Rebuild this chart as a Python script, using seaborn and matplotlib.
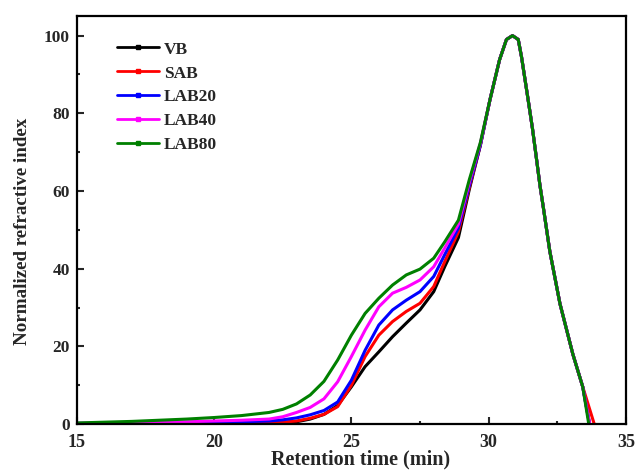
import numpy as np
import pandas as pd
import matplotlib
matplotlib.use("Agg")
import matplotlib.pyplot as plt
from matplotlib.lines import Line2D
import seaborn as sns

# retention time grid (min), shared by all samples
time = [15, 16, 17, 18, 19, 20, 21, 22, 22.5, 23, 23.5, 24, 24.5, 25, 25.5,
        26, 26.5, 27, 27.5, 28, 28.4, 28.9, 29.3, 29.7, 30.05, 30.4, 30.65,
        30.87, 31.08, 31.2, 31.44, 31.6, 31.75, 31.87, 32.0, 32.23, 32.6,
        33.07, 33.43]

# falling side after the peak, same for all samples
tail = [83.5, 93.8, 99, 100, 99, 94.5, 83.5, 76, 68, 61.5, 55.5, 44.5, 31,
        18, 9.6]

vb = [0.1, 0.1, 0.1, 0.1, 0.1, 0.1, 0.1, 0.2, 0.4, 0.6, 1.3, 2.5, 4.8, 9.6,
      14.8, 18.6, 22.5, 26.0, 29.4, 34.1, 40.5, 48, 60.5, 71.8] + tail
sab = [0.1, 0.1, 0.1, 0.1, 0.1, 0.1, 0.2, 0.3, 0.5, 0.8, 1.5, 2.5, 4.5, 10.0,
       17.4, 22.9, 26.4, 29.0, 31.1, 35.4, 41.8, 49.5, 61, 71.8] + tail
lab20 = [0.2, 0.2, 0.3, 0.3, 0.4, 0.5, 0.6, 0.8, 1.1, 1.6, 2.4, 3.5, 5.7, 11.3,
         19.0, 25.5, 29.4, 31.9, 34.1, 38.0, 43.6, 50.5, 61.5, 71.8] + tail
lab40 = [0.2, 0.3, 0.4, 0.5, 0.6, 0.8, 1.0, 1.3, 1.9, 3.0, 4.3, 6.5, 10.9, 17.4,
         24.2, 30.2, 33.7, 35.2, 37.1, 40.5, 45.3, 51.5, 62.3, 72.3] + tail
lab80 = [0.3, 0.5, 0.7, 1.0, 1.3, 1.7, 2.2, 3.0, 3.8, 5.2, 7.5, 11, 16.5, 22.9,
         28.5, 32.4, 35.8, 38.4, 39.9, 42.7, 46.9, 52.5, 63, 72.5] + tail

# where each trace reaches zero
end_time = {"VB": 33.68, "SAB": 33.85, "LAB20": 33.68, "LAB40": 33.68, "LAB80": 33.65}

samples = ["VB", "SAB", "LAB20", "LAB40", "LAB80"]
series = {"VB": vb, "SAB": sab, "LAB20": lab20, "LAB40": lab40, "LAB80": lab80}
colors = {"VB": "#000000", "SAB": "#ff0000", "LAB20": "#0000ff",
          "LAB40": "#ff00ff", "LAB80": "#008000"}

rows = []
for s in samples:
    for t, v in zip(time + [end_time[s]], series[s] + [0]):
        rows.append((s, t, v))
df = pd.DataFrame(rows, columns=["sample", "time", "ri"])

sns.set_style("ticks")
plt.rcParams["font.family"] = ["Liberation Serif", "DejaVu Serif"]
plt.rcParams["font.weight"] = "bold"

fig = plt.figure(figsize=(6.36, 4.76), dpi=100)
ax = fig.add_axes([0.121, 0.109, 0.863, 0.857])

sns.lineplot(data=df, x="time", y="ri", hue="sample", hue_order=samples,
             palette=colors, linewidth=2.2, estimator=None, legend=False, ax=ax)

ax.set_xlim(15, 35)
ax.set_ylim(0, 105)
ax.set_xticks([15, 20, 25, 30, 35])
ax.set_yticks([0, 20, 40, 60, 80, 100])
ax.set_xticks(np.arange(17.5, 35, 5), minor=True)
ax.set_yticks(np.arange(10, 105, 20), minor=True)
ax.tick_params(which="both", direction="in", width=1.5, labelsize=12.5)
ax.tick_params(axis="x", which="major", pad=7, labelsize=13)
ax.tick_params(axis="y", which="major", pad=5)
ax.tick_params(which="major", length=5)
ax.tick_params(which="minor", length=2.5)
for sp in ax.spines.values():
    sp.set_linewidth(1.6)
    sp.set_color("black")
for lbl in ax.get_xticklabels() + ax.get_yticklabels():
    lbl.set_fontweight("bold")

ax.set_xlabel("Retention time (min)", fontsize=14.5, fontweight="bold")
ax.set_ylabel("Normalized refractive index", fontsize=13.7, fontweight="bold")
ax.xaxis.set_label_coords(0.517, -0.062)
ax.yaxis.set_label_coords(-0.083, 0.472)

handles = [Line2D([], [], color=colors[s], linewidth=2, marker="s", markersize=2.5)
           for s in samples]
ax.legend(handles, samples, loc="upper left", bbox_to_anchor=(0.184, 0.913),
          bbox_transform=fig.transFigure, frameon=False, handlelength=2.4,
          handletextpad=0.3, labelspacing=0.45, borderpad=0, borderaxespad=0,
          prop={"family": "Liberation Serif", "weight": "bold", "size": 12.5})

fig.savefig("out.png", dpi=100)
